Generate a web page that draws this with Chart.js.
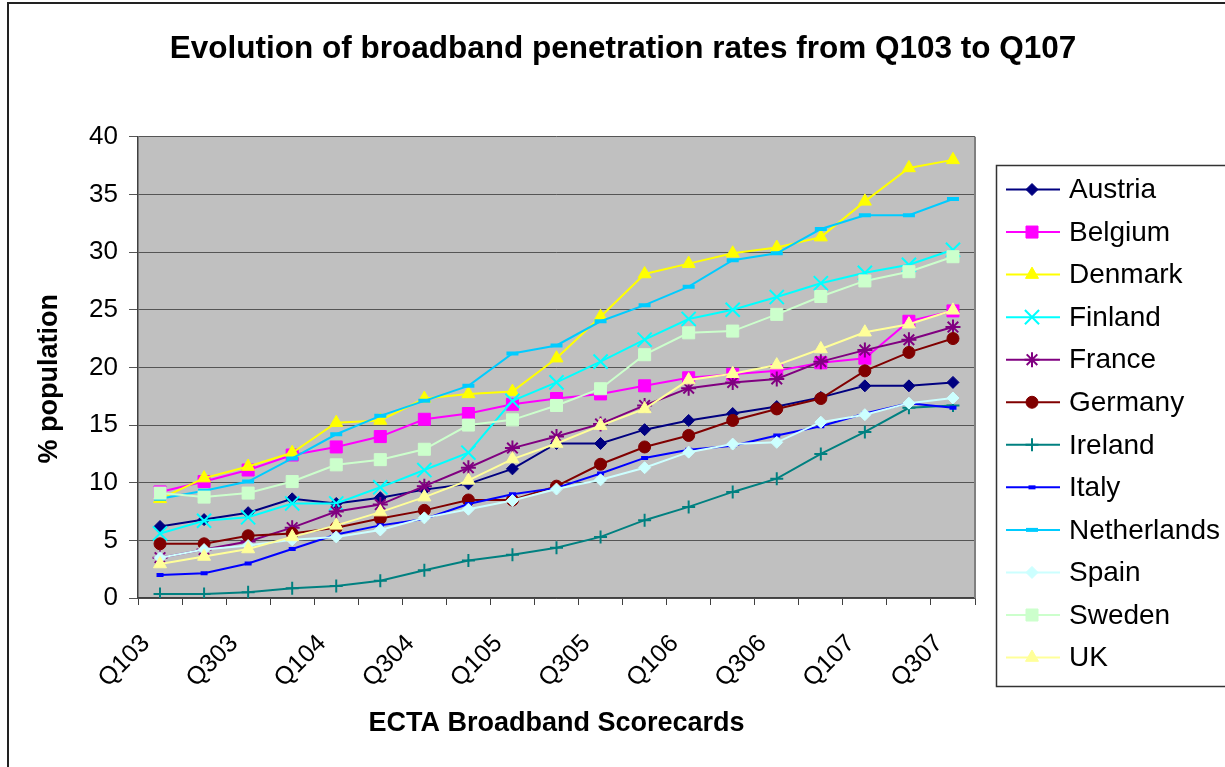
<!DOCTYPE html>
<html>
<head>
<meta charset="utf-8">
<title>Evolution of broadband penetration rates from Q103 to Q107</title>
<script src="https://cdn.jsdelivr.net/npm/chart.js@4.4.1/dist/chart.umd.min.js"></script>
<style>
  html, body { margin: 0; padding: 0; background: #fff; }
  canvas { display: block; }
</style>
</head>
<body>
<canvas id="penetrationChart" width="1225" height="767"></canvas>
<script>
// quarters of the ECTA scorecards
var quarters = ['Q103', 'Q203', 'Q303', 'Q403', 'Q104', 'Q204', 'Q304', 'Q404', 'Q105', 'Q205',
    'Q305', 'Q405', 'Q106', 'Q206', 'Q306', 'Q406', 'Q107', 'Q207', 'Q307'];

// % population
var austria     = [6.2, 6.8, 7.4, 8.6, 8.2, 8.7, 9.4, 9.9, 11.2, 13.4, 13.4, 14.6, 15.4, 16.0, 16.6, 17.4, 18.4, 18.4, 18.7];
var belgium     = [9.2, 10.1, 11.1, 12.4, 13.1, 14.0, 15.5, 16.0, 16.8, 17.3, 17.7, 18.4, 19.1, 19.4, 19.7, 20.4, 20.8, 24.0, 24.9];
var denmark     = [8.6, 10.4, 11.4, 12.6, 15.2, 15.4, 17.3, 17.7, 17.9, 20.8, 24.4, 28.1, 29.0, 29.9, 30.4, 31.3, 34.4, 37.3, 38.0];
var finland     = [5.6, 6.7, 7.0, 8.2, 8.2, 9.6, 11.1, 12.6, 17.1, 18.7, 20.5, 22.4, 24.2, 25.0, 26.1, 27.3, 28.2, 28.9, 30.2];
var france      = [3.5, 4.2, 4.9, 6.1, 7.5, 8.1, 9.7, 11.3, 13.0, 14.0, 15.1, 16.7, 18.2, 18.7, 19.0, 20.5, 21.5, 22.4, 23.5];
var germany     = [4.7, 4.7, 5.4, 5.6, 6.1, 6.9, 7.6, 8.5, 8.5, 9.7, 11.6, 13.1, 14.1, 15.4, 16.4, 17.3, 19.7, 21.3, 22.5];
var ireland     = [0.35, 0.35, 0.5, 0.85, 1.05, 1.5, 2.4, 3.25, 3.75, 4.35, 5.3, 6.75, 7.9, 9.2, 10.35, 12.5, 14.4, 16.5, 16.7];
var italy       = [2.0, 2.15, 3.0, 4.25, 5.5, 6.3, 6.85, 8.15, 9.0, 9.55, 10.8, 12.15, 12.85, 13.2, 14.1, 14.9, 16.0, 16.9, 16.5];
var netherlands = [8.6, 9.3, 10.1, 12.1, 14.2, 15.8, 17.1, 18.4, 21.2, 21.9, 24.0, 25.4, 27.0, 29.3, 29.9, 32.0, 33.2, 33.2, 34.6];
var spain       = [3.5, 4.2, 4.55, 5.05, 5.3, 5.9, 6.95, 7.7, 8.45, 9.45, 10.25, 11.3, 12.65, 13.35, 13.5, 15.25, 15.9, 16.9, 17.35];
var sweden      = [9.1, 8.75, 9.1, 10.1, 11.55, 12.0, 12.9, 15.0, 15.45, 16.7, 18.15, 21.1, 23.0, 23.15, 24.6, 26.15, 27.5, 28.3, 29.6];
var uk          = [2.95, 3.6, 4.25, 5.3, 6.3, 7.45, 8.75, 10.2, 12.05, 13.4, 14.95, 16.4, 18.9, 19.45, 20.2, 21.6, 23.05, 23.75, 24.95];

var yTicks = [0, 5, 10, 15, 20, 25, 30, 35, 40];

var FONT = "'Liberation Sans', Arial, sans-serif";

// excel-ish marker styles
var series = [
    { label: 'Austria',     data: austria,     color: '#000080', fill: '#000080', style: 'rectRot',  radius: 6,   pw: 1 },
    { label: 'Belgium',     data: belgium,     color: '#ff00ff', fill: '#ff00ff', style: 'rect',     radius: 8.5, pw: 1 },
    { label: 'Denmark',     data: denmark,     color: '#ffff00', fill: '#ffff00', style: 'triangle', radius: 7.5, pw: 1 },
    { label: 'Finland',     data: finland,     color: '#00ffff', fill: '#00ffff', style: 'crossRot', radius: 10,  pw: 2 },
    { label: 'France',      data: france,      color: '#800080', fill: '#800080', style: 'star',     radius: 7.5, pw: 2 },
    { label: 'Germany',     data: germany,     color: '#800000', fill: '#800000', style: 'circle',   radius: 6,   pw: 1 },
    { label: 'Ireland',     data: ireland,     color: '#008080', fill: '#008080', style: 'cross',    radius: 6.5, pw: 2 },
    { label: 'Italy',       data: italy,       color: '#0000ff', fill: '#0000ff', style: 'line',     radius: 3.5, pw: 4 },
    { label: 'Netherlands', data: netherlands, color: '#00ccff', fill: '#00ccff', style: 'line',     radius: 6,   pw: 4 },
    { label: 'Spain',       data: spain,       color: '#ccffff', fill: '#ccffff', style: 'rectRot',  radius: 6,   pw: 1 },
    { label: 'Sweden',      data: sweden,      color: '#ccffcc', fill: '#ccffcc', style: 'rect',     radius: 8.5, pw: 1 },
    { label: 'UK',          data: uk,          color: '#ffff99', fill: '#ffff99', style: 'triangle', radius: 7.5, pw: 1 }
];

function drawMarker(ctx, s, x, y) {
    ctx.fillStyle = s.fill;
    ctx.strokeStyle = s.color;
    ctx.lineWidth = s.pw;
    if (Chart.helpers && Chart.helpers.drawPoint) {
        Chart.helpers.drawPoint(ctx, { pointStyle: s.style, radius: s.radius, borderWidth: s.pw, rotation: 0 }, x, y);
    } else {
        ctx.beginPath();
        ctx.arc(x, y, s.radius, 0, Math.PI * 2);
        ctx.fill();
    }
}

var decor = {
    id: 'decor',
    beforeDraw: function (chart) {
        var ctx = chart.ctx, a = chart.chartArea;
        ctx.save();
        ctx.fillStyle = '#fff';
        ctx.fillRect(0, 0, chart.width, chart.height);
        ctx.fillStyle = '#c0c0c0';
        ctx.fillRect(a.left, a.top, a.right - a.left, a.bottom - a.top);
        // outer chart frame, runs off right/bottom
        ctx.strokeStyle = '#222';
        ctx.lineWidth = 2;
        ctx.strokeRect(8, 3, chart.width + 40, chart.height + 40);
        ctx.restore();
    },
    beforeDatasetsDraw: function (chart) {
        var ctx = chart.ctx, a = chart.chartArea;
        ctx.save();
        ctx.strokeStyle = '#808080';
        ctx.lineWidth = 2;
        ctx.beginPath();
        ctx.moveTo(a.right, a.top);
        ctx.lineTo(a.right, a.bottom);
        ctx.stroke();
        ctx.restore();
    },
    afterDraw: function (chart) {
        var ctx = chart.ctx;
        var bx = 996.5, by = 165.5, step = 42.55;
        ctx.save();
        ctx.strokeStyle = '#333';
        ctx.lineWidth = 1.5;
        ctx.strokeRect(bx, by, 300, 521);
        ctx.font = '28px ' + FONT;
        ctx.textBaseline = 'middle';
        ctx.textAlign = 'left';
        series.forEach(function (s, i) {
            var y = 189.5 + i * step;
            ctx.strokeStyle = s.color;
            ctx.lineWidth = 2;
            ctx.beginPath();
            ctx.moveTo(1006, y);
            ctx.lineTo(1060, y);
            ctx.stroke();
            drawMarker(ctx, s, 1032, y);
            ctx.fillStyle = '#000';
            ctx.fillText(s.label, 1069, y + 1);
        });
        ctx.restore();
    }
};

document.addEventListener('DOMContentLoaded', function () {
    var ctx = document.getElementById('penetrationChart').getContext('2d');
    Chart.defaults.font.family = FONT;

    var penetrationChart = new Chart(ctx, {
        type: 'line',
        data: {
            labels: quarters,
            datasets: series.map(function (s, i) {
                return {
                    label: s.label,
                    data: s.data,
                    borderColor: s.color,
                    backgroundColor: s.fill,
                    borderWidth: 2,
                    tension: 0,
                    fill: false,
                    pointStyle: s.style,
                    pointRadius: s.radius,
                    pointBorderWidth: s.pw,
                    pointBackgroundColor: s.fill,
                    pointBorderColor: s.color,
                    order: series.length - i
                };
            })
        },
        options: {
            responsive: false,
            animation: false,
            devicePixelRatio: 1,
            events: [],
            layout: { padding: { left: 21, top: 0, right: 0, bottom: 0 } },
            plugins: {
                legend: { display: false },
                tooltip: { enabled: false },
                title: {
                    display: true,
                    text: 'Evolution of broadband penetration rates from Q103 to Q107',
                    color: '#000',
                    font: { family: FONT, size: 31.5, weight: 'bold' },
                    padding: { top: 30, bottom: 69 }
                }
            },
            scales: {
                x: {
                    offset: true,
                    grid: { offset: true, drawOnChartArea: false, drawTicks: true, tickLength: 7, color: '#404040' },
                    border: { color: '#404040', width: 1.5 },
                    ticks: {
                        autoSkip: false,
                        maxRotation: 45,
                        minRotation: 45,
                        padding: 24,
                        labelOffset: -14,
                        color: '#000',
                        font: { family: FONT, size: 25 },
                        callback: function (v, i) { return i % 2 === 0 ? this.getLabelForValue(v) : ''; }
                    },
                    title: {
                        display: true,
                        text: 'ECTA Broadband Scorecards',
                        color: '#000',
                        font: { family: FONT, size: 27, weight: 'bold' },
                        padding: { top: 0, bottom: 27 }
                    },
                    afterFit: function (s) { s.height = 169; }
                },
                y: {
                    min: yTicks[0],
                    max: yTicks[yTicks.length - 1],
                    grid: { color: '#555', tickLength: 9, drawTicks: true },
                    border: { color: '#404040', width: 1.5 },
                    ticks: {
                        stepSize: yTicks[1] - yTicks[0],
                        padding: 11,
                        color: '#000',
                        font: { family: FONT, size: 26 }
                    },
                    title: {
                        display: true,
                        text: '% population   ',
                        color: '#000',
                        font: { family: FONT, size: 27, weight: 'bold' },
                        padding: { top: 12, bottom: 0 }
                    },
                    afterFit: function (s) { s.width = 117; }
                },
                // empty axis just to keep room for the legend box
                yR: {
                    type: 'linear',
                    position: 'right',
                    grid: { display: false },
                    border: { display: false },
                    ticks: { display: false },
                    afterFit: function (s) { s.width = 250; }
                }
            }
        },
        plugins: [decor]
    });
});
</script>
</body>
</html>
